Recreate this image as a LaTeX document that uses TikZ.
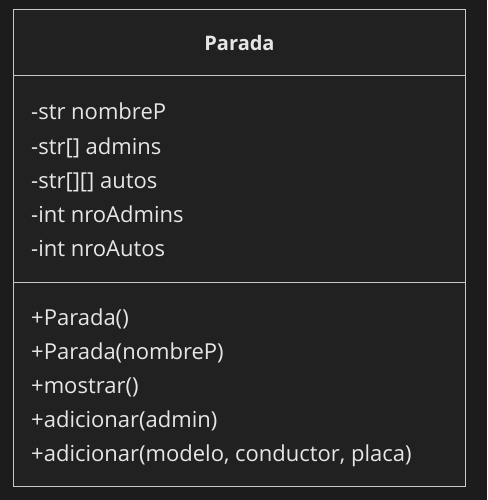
\documentclass[tikz,border=0pt]{standalone}
\usepackage{fontspec}
\setmainfont{Open Sans}
\definecolor{bgout}{HTML}{1C1C1C}
\definecolor{bgbox}{HTML}{212121}
\definecolor{edge}{HTML}{C8C8C8}
\definecolor{txt}{HTML}{E6E6E6}
\tikzset{
  member/.style={anchor=base west, text=txt, font=\fontsize{22}{24}\selectfont, inner sep=0pt},
  title/.style={anchor=base, text=txt, font=\bfseries\fontsize{20}{24}\selectfont, inner sep=0pt},
  sep/.style={draw=edge, line width=1pt}
}
\begin{document}
\begin{tikzpicture}[x=1pt,y=-1pt]
\useasboundingbox[fill=bgout] (0,0) rectangle (487,500);
\node[draw=edge, fill=bgbox, line width=1pt, minimum width=452pt, minimum height=477pt, inner sep=0pt, anchor=north west] (box) at (13,9) {};
\coordinate (s1l) at (13,76); \coordinate (s1r) at (465,76);
\coordinate (s2l) at (13,282); \coordinate (s2r) at (465,282);
\draw[sep] (s1l) -- (s1r);
\draw[sep] (s2l) -- (s2r);
\node[title] (t) at (239.5,51) {Parada};
\node[member] (a1) at (31,120) {-str nombreP};
\node[member] (a2) at (31,154) {-str[] admins};
\node[member] (a3) at (31,188) {-str[][] autos};
\node[member] (a4) at (31,222) {-int nroAdmins};
\node[member] (a5) at (31,256) {-int nroAutos};
\node[member] (m1) at (31,325) {+Parada()};
\node[member] (m2) at (31,359) {+Parada(nombreP)};
\node[member] (m3) at (31,393) {+mostrar()};
\node[member] (m4) at (31,427) {+adicionar(admin)};
\node[member] (m5) at (31,461) {+adicionar(modelo, conductor, placa)};
\end{tikzpicture}
\end{document}
